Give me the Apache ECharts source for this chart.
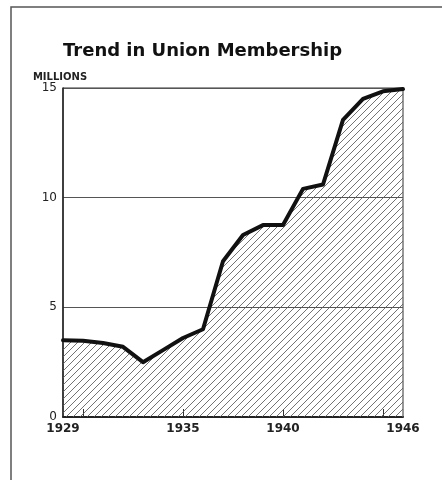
<!DOCTYPE html>
<html>
<head>
<meta charset="utf-8">
<script src="https://cdn.jsdelivr.net/npm/echarts@6/dist/echarts.min.js"></script>
<style>
  html, body { margin: 0; padding: 0; background: #fff; }
  #chart { width: 442px; height: 480px; }
</style>
</head>
<body>
<div id="chart"></div>
<script>
const titleText = 'Trend in Union Membership';
const unitLabel = 'MILLIONS';
const years = [1929, 1930, 1931, 1932, 1933, 1934, 1935, 1936, 1937, 1938, 1939, 1940, 1941, 1942, 1943, 1944, 1945, 1946];
const membership = [3.5, 3.48, 3.37, 3.2, 2.5, 3.05, 3.6, 4.0, 7.1, 8.3, 8.75, 8.75, 10.4, 10.6, 13.55, 14.5, 14.85, 14.95];
const xLabelValues = [1929, 1935, 1940, 1946];
const xTickValues = [1930, 1935, 1940, 1945];

// diagonal hatch pattern
const tile = document.createElement('canvas');
tile.width = 7; tile.height = 7;
const c = tile.getContext('2d');
c.strokeStyle = '#5a5a5a';
c.lineWidth = 0.85;
c.beginPath();
c.moveTo(-1, 8); c.lineTo(8, -1);
c.moveTo(-1, 1); c.lineTo(1, -1);
c.moveTo(6, 8); c.lineTo(8, 6);
c.stroke();

const chart = echarts.init(document.getElementById('chart'), null, { renderer: 'canvas' });
chart.setOption({
  animation: false,
  backgroundColor: '#fff',
  title: {
    text: titleText,
    left: 58, top: 37,
    textStyle: { fontFamily: 'DejaVu Sans', fontWeight: 'bold', fontSize: 18, color: '#111' }
  },
  graphic: [{
    type: 'polyline',
    shape: { points: [[11, 480], [11, 7], [442, 7]] },
    style: { stroke: '#555', lineWidth: 1.5, fill: null }
  }],
  grid: { left: 63, right: 39, top: 88, bottom: 63, show: true, borderColor: '#333', borderWidth: 1 },
  xAxis: {
    type: 'value', min: 1929, max: 1946, interval: 1,
    axisLine: { show: true, lineStyle: { color: '#222', width: 2 } },
    axisTick: { show: true, inside: true, length: 8, customValues: xTickValues, lineStyle: { color: '#333', width: 1 } },
    axisLabel: {
      customValues: xLabelValues, margin: 6,
      fontFamily: 'DejaVu Sans', fontSize: 12, fontWeight: 'bold', color: '#222',
      formatter: v => String(v)
    },
    splitLine: { show: false }
  },
  yAxis: {
    type: 'value', min: 0, max: 15, interval: 5,
    name: unitLabel, nameLocation: 'end', nameGap: 7,
    nameTextStyle: { fontFamily: 'DejaVu Sans', fontSize: 10, fontWeight: 'bold', color: '#222', align: 'center', verticalAlign: 'middle', padding: [0, 6, 0, 0] },
    axisLine: { show: true, lineStyle: { color: '#222', width: 1.5 } },
    axisTick: { show: false },
    axisLabel: { margin: 6, fontFamily: 'DejaVu Sans', fontSize: 12, color: '#222' },
    splitLine: { show: true, lineStyle: { color: '#555', width: 1 } }
  },
  series: [{
    type: 'line',
    data: years.map((y, i) => [y, membership[i]]),
    showSymbol: false,
    lineStyle: { color: '#111', width: 4, join: 'round', cap: 'round' },
    areaStyle: { color: { image: tile, repeat: 'repeat' }, opacity: 1 },
    z: 3
  }]
});
</script>
</body>
</html>
